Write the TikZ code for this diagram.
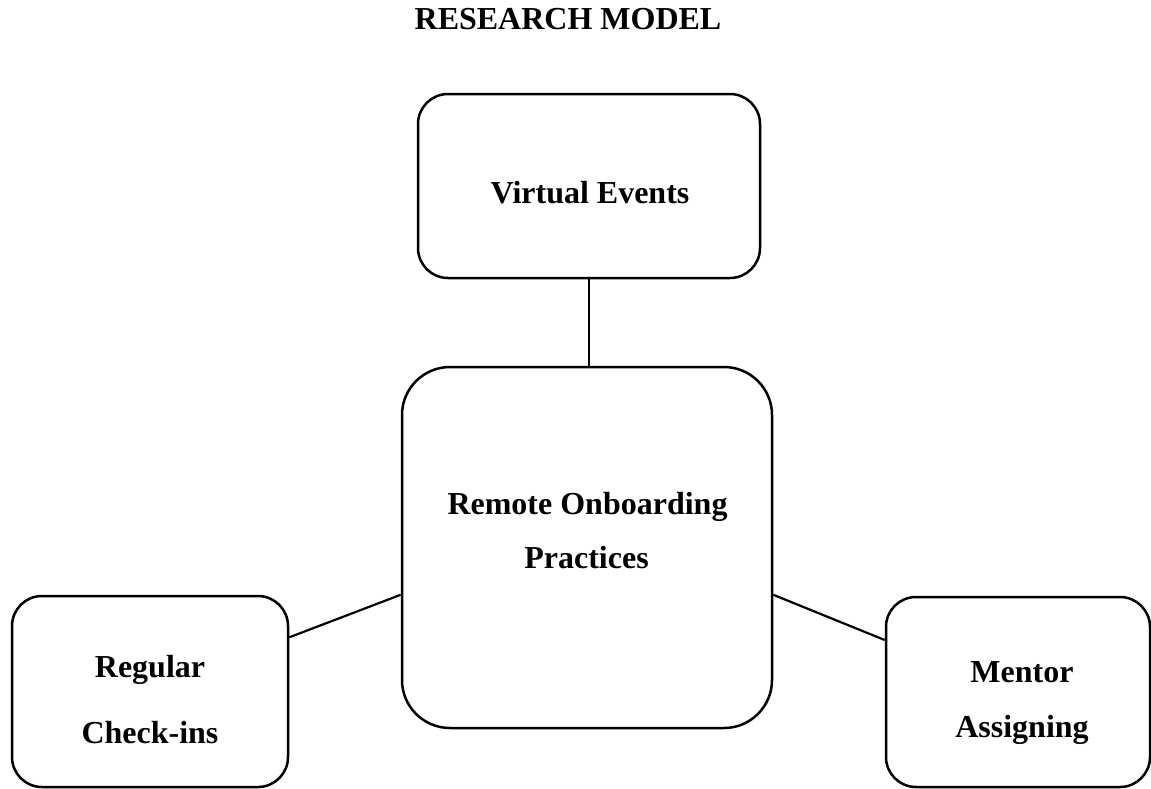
\documentclass[tikz,border=0pt]{standalone}
\usepackage{fontspec}
\setmainfont{Liberation Serif}
\usetikzlibrary{calc}
\begin{document}
\begin{tikzpicture}[x=0.5pt,y=-0.5pt,
  box/.style={draw=black, line width=1.25pt, inner sep=0pt, rounded corners=15pt},
  lbl/.style={font=\fontsize{16}{19}\selectfont\bfseries, anchor=base, inner sep=0pt},
  link/.style={draw=black, line width=1.1pt}]
\useasboundingbox (0,0) rectangle (1151,788);
% boxes
\node[box, minimum width=171pt, minimum height=92pt] (ve) at (589,186) {};
\node[box, minimum width=185pt, minimum height=180.5pt, rounded corners=24pt] (ro) at (587,547.5) {};
\node[box, minimum width=138pt, minimum height=95.5pt] (rc) at (150,691.5) {};
\node[box, minimum width=132pt, minimum height=95pt] (ma) at (1018,692) {};
% texts
\node[lbl] (title) at (568,29) {RESEARCH MODEL};
\node[lbl] (ve-t) at (590,203) {Virtual Events};
\node[lbl] (ro-t1) at (587.5,514) {Remote Onboarding};
\node[lbl] (ro-t2) at (586.5,568) {Practices};
\node[lbl] (rc-t1) at (150,677) {Regular};
\node[lbl] (rc-t2) at (150,743) {Check-ins};
\node[lbl] (ma-t1) at (1022,682) {Mentor};
\node[lbl] (ma-t2) at (1022,737) {Assigning};
% connectors
\draw[link] (ve.south) -- (ve.south |- ro.north);
\draw[link] ($(rc.north east)!0.22!(rc.south east)$) -- ($(ro.north west)!0.63!(ro.south west)$);
\draw[link] ($(ro.north east)!0.63!(ro.south east)$) -- ($(ma.north west)!0.23!(ma.south west)$);
\end{tikzpicture}
\end{document}
